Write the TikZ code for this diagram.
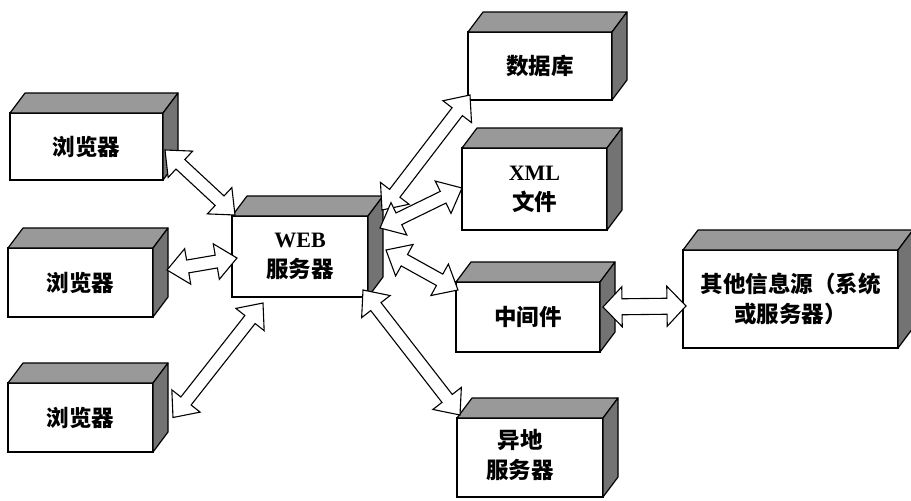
\documentclass[tikz,border=0pt]{standalone}
\usepackage{fontspec}
\setmainfont{Liberation Serif}
\newfontfamily\cjk{Noto Sans CJK SC}
\newfontfamily\latin{Liberation Serif}
\usetikzlibrary{calc}

% hollow double-headed block arrow between two named points
\newcommand\ahl{21}   % head length
\newcommand\ahw{18}   % half width of the head
\newcommand\asw{6.5}  % half width of the shaft
\newcommand\blkarrow[3][]{%
  \pgfpointdiff{\pgfpointanchor{#2}{center}}{\pgfpointanchor{#3}{center}}%
  \pgfgetlastxy{\bdx}{\bdy}%
  \pgfmathsetmacro\bang{atan2(\bdy,\bdx)}%
  \pgfmathsetmacro\blen{veclen(\bdx,\bdy)}%
  \pgfpointanchor{#2}{center}\pgfgetlastxy{\bsx}{\bsy}%
  \draw[blk,#1,shift={(\bsx,\bsy)},rotate=\bang]
    (0pt,0pt) -- (\ahl pt,\ahw pt) -- (\ahl pt,\asw pt)
    -- ({(\blen-\ahl)*1pt},\asw pt) -- ({(\blen-\ahl)*1pt},\ahw pt)
    -- (\blen pt,0pt)
    -- ({(\blen-\ahl)*1pt},-\ahw pt) -- ({(\blen-\ahl)*1pt},-\asw pt)
    -- (\ahl pt,-\asw pt) -- (\ahl pt,-\ahw pt) -- cycle;}

% box with a shaded top and right side: name, x1, y1, x2, y2, text
\newcommand\cubebox[6]{%
  \node[front, minimum width={(#4-#2)*1pt}, minimum height={(#5-#3)*1pt}]
    (#1) at ({(#2+#4)/2},{(#3+#5)/2}) {#6};
  \filldraw[topface] (#1.north west) -- ++(15,-20)
    -- ($(#1.north east)+(15,-20)$) -- (#1.north east) -- cycle;
  \filldraw[sideface] (#1.north east) -- ++(15,-20)
    -- ($(#1.south east)+(15,-20)$) -- (#1.south east) -- cycle;}

\tikzset{
  front/.style={draw, fill=white, line width=1.4pt, inner sep=0pt, outer sep=0pt,
    align=center, font=\cjk\bfseries\fontsize{22.5}{30}\selectfont},
  topface/.style={fill=black!40, draw=black, line width=1.2pt, line join=round},
  sideface/.style={fill=black!55, draw=black, line width=1.2pt, line join=round},
  blk/.style={draw=black, fill=white, line width=1.1pt, line join=miter}
}

\begin{document}
\begin{tikzpicture}[x=1pt,y=-1pt]
\useasboundingbox[fill=white] (0,0) rectangle (911,501);

\cubebox{b1}{10}{113}{163}{180}{浏览器}
\cubebox{b2}{8}{248}{153}{317}{浏览器}
\cubebox{b3}{8}{383}{153}{452}{浏览器}
\cubebox{web}{232}{216}{368}{297}{{\latin\fontsize{22}{30}\selectfont WEB}\\服务器}
\cubebox{db}{468}{32}{612}{100}{\raisebox{-6pt}{数据库}}
\cubebox{xml}{462}{148}{607}{230}{{\latin\fontsize{22}{30}\selectfont XML}\\文件}
\cubebox{mid}{456}{282}{600}{352}{中间件}
\cubebox{oth}{683}{250}{898}{348}{其他信息源（系统\\或服务器）}
\cubebox{rem}{457}{418}{603}{497}{\hspace*{-20pt}\begin{tabular}{c}异地\\服务器\end{tabular}}

% arrow ends
\coordinate (a1s) at ($(b1.east)+(2,3.5)$);
\coordinate (a1e) at ($(web.north west)+(3,-1)$);
\coordinate (a2s) at ($(b2.east)+(14,-12.5)$);
\coordinate (a2e) at ($(web.west)+(5,1.5)$);
\coordinate (a3s) at ($(b3.east)+(20,0)$);
\coordinate (a3e) at ($(web.south)+(-37,6)$);
\coordinate (a4s) at ($(web.north east)+(14,-6)$);
\coordinate (a4e) at ($(db.south west)+(2,-5)$);
\coordinate (a5s) at ($(web.east)+(12,-28.5)$);
\coordinate (a5e) at ($(xml.west)+(0,-1)$);
\coordinate (a6s) at ($(web.east)+(18,-6.5)$);
\coordinate (a6e) at ($(mid.north west)+(2,8)$);
\coordinate (a7s) at ($(web.south east)+(-5,-7)$);
\coordinate (a7e) at ($(rem.north west)+(3,-3)$);
\coordinate (a8s) at ($(mid.east)+(3,-10)$);
\coordinate (a8e) at ($(oth.west)+(3,7)$);

\blkarrow{a1s}{a1e}
\blkarrow{a2s}{a2e}
\blkarrow{a3s}{a3e}
\blkarrow{a4s}{a4e}
\blkarrow{a5s}{a5e}
\blkarrow{a6s}{a6e}
\blkarrow{a7s}{a7e}
\renewcommand\ahl{19}\renewcommand\ahw{20}\renewcommand\asw{8}
\blkarrow{a8s}{a8e}
\end{tikzpicture}
\end{document}
